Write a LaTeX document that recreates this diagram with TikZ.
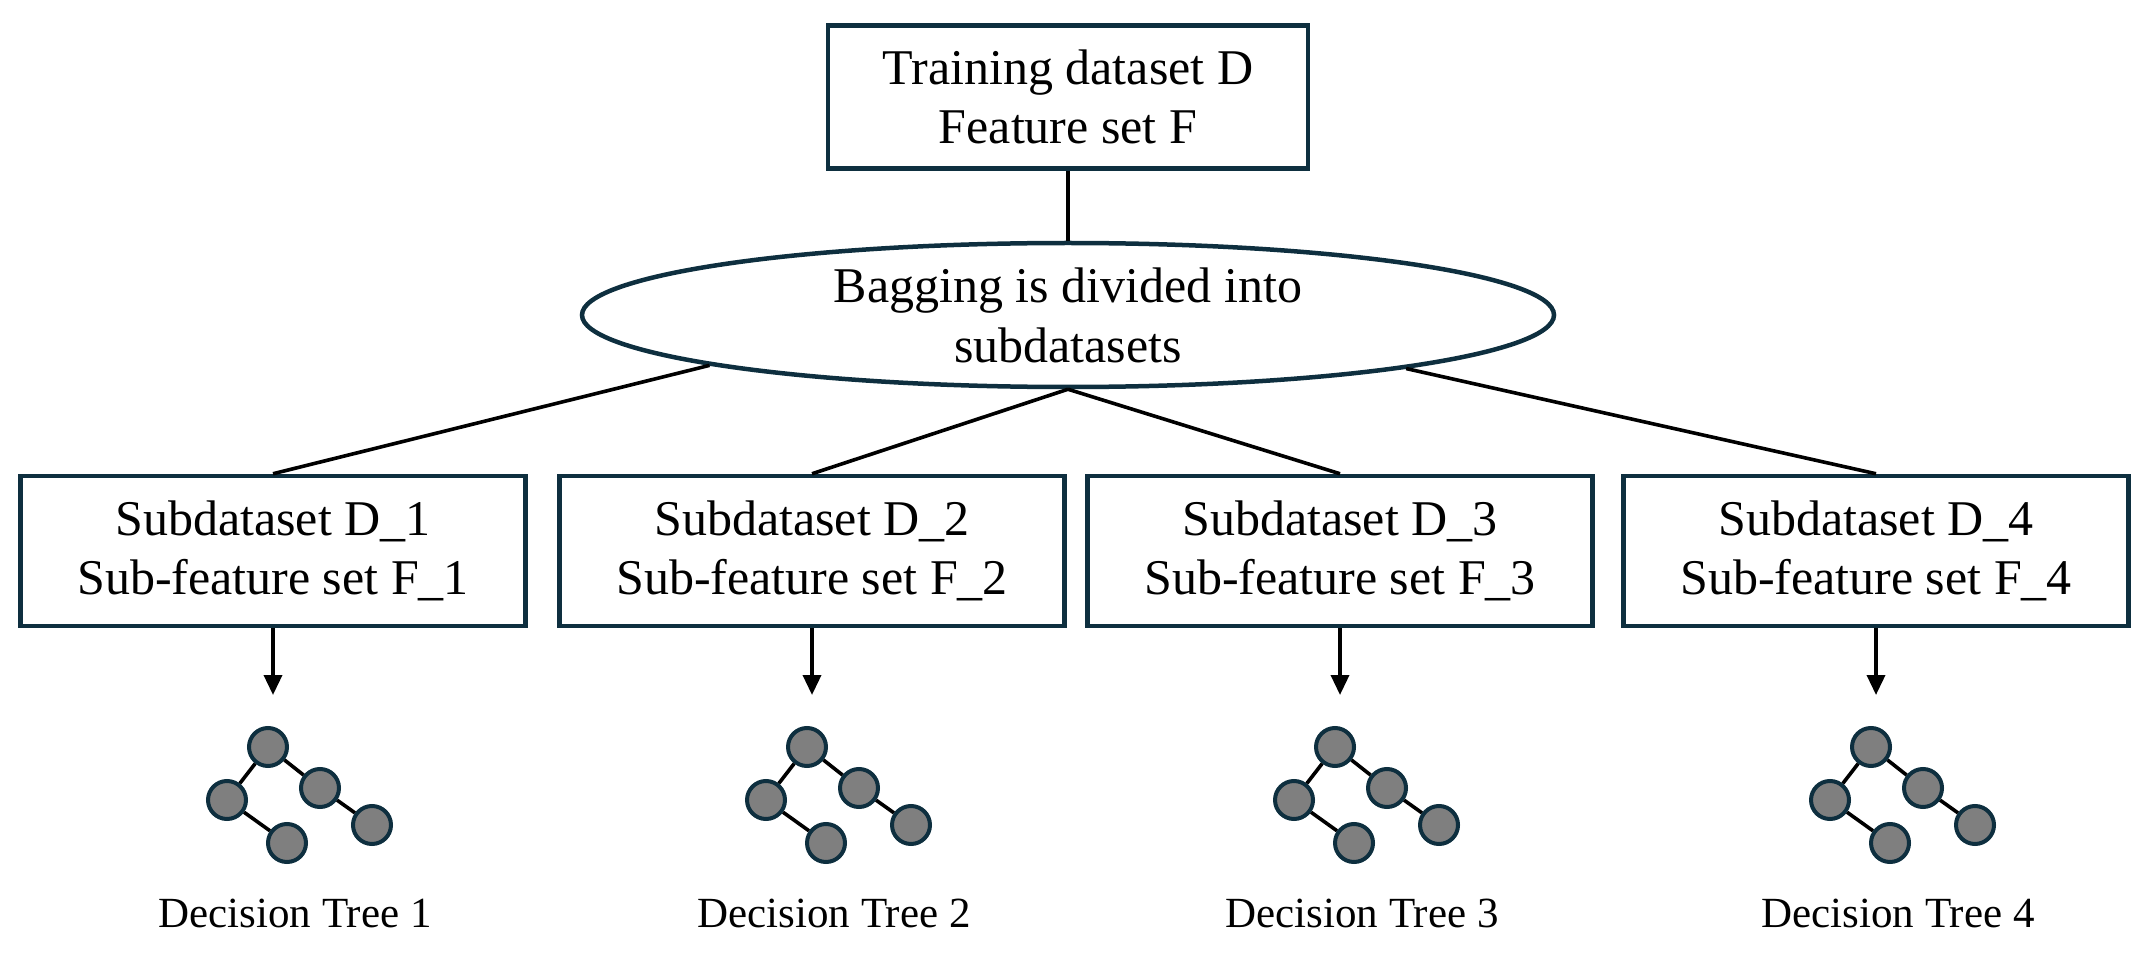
\documentclass[tikz,border=0pt]{standalone}
\usepackage{fontspec}
\setmainfont{Liberation Serif}
\usetikzlibrary{shapes.geometric,arrows.meta}
\definecolor{bord}{HTML}{0E2F3F}
\definecolor{tfill}{HTML}{7F7F7F}
\begin{document}
\begin{tikzpicture}[x=1pt,y=-1pt,
  box/.style={draw=bord,line width=4.5pt,minimum width=505pt,minimum height=150pt,inner sep=0pt,align=center,font=\fontsize{50}{59}\selectfont},
  conn/.style={line width=3.6pt,black},
  arr/.style={line width=3.6pt,black,-{Triangle[length=20pt,width=18pt]}},
  tn/.style={circle,draw=bord,line width=4pt,fill=tfill,minimum size=38pt,inner sep=0pt},
  lab/.style={font=\fontsize{43}{50}\selectfont,anchor=base}]
\useasboundingbox (0,0) rectangle (2152,965);
\node[box,minimum width=480pt,minimum height=143pt] (top) at (1068,97) {Training dataset D\\Feature set F};
\node[draw=bord,line width=4.5pt,ellipse,minimum width=972pt,minimum height=144pt,inner sep=0pt,align=center,font=\fontsize{50}{60}\selectfont] (e) at (1068,315) {Bagging is divided into\\subdatasets};
\draw[conn] (top.south) -- (e.north);
\foreach \i/\cx in {1/273,2/812,3/1340,4/1876}{
  \node[box] (b\i) at (\cx,551) {Subdataset D\_\i\\Sub-feature set F\_\i};
  \coordinate (a\i) at (\cx,695);
  \draw[arr] (b\i.south) -- (a\i);
  \begin{scope}[shift={(\cx-5,0)}]
    \node[tn] (r\i) at (0,747) {};
    \node[tn] (l\i) at (-41,800) {};
    \node[tn] (m\i) at (52,788) {};
    \node[tn] (c\i) at (19,843) {};
    \node[tn] (q\i) at (104,825) {};
  \end{scope}
  \draw[conn] (r\i) -- (l\i);
  \draw[conn] (r\i) -- (m\i);
  \draw[conn] (l\i) -- (c\i);
  \draw[conn] (m\i) -- (q\i);
  \node[lab] (d\i) at (\cx+22,927) {Decision Tree \i};
}
\draw[conn] (e.188.4) -- (b1.north);
\draw[conn] (e.south) -- (b2.north);
\draw[conn] (e.south) -- (b3.north);
\draw[conn] (e.351.8) -- (b4.north);
\end{tikzpicture}
\end{document}
